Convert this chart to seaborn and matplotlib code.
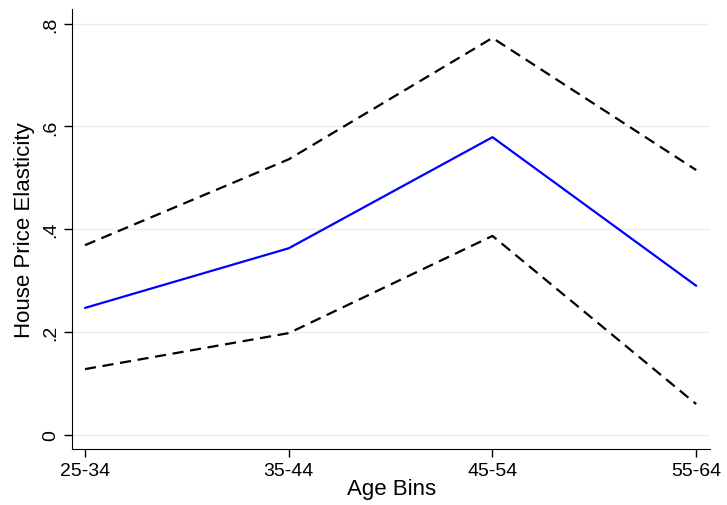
import matplotlib
matplotlib.use("Agg")
import matplotlib.pyplot as plt
import seaborn as sns
import pandas as pd

age_bins = ["25-34", "35-44", "45-54", "55-64"]
estimate = [0.247, 0.363, 0.579, 0.290]
upper_ci = [0.369, 0.536, 0.772, 0.515]
lower_ci = [0.128, 0.198, 0.387, 0.060]

sns.set_style("white")
plt.rcParams["font.family"] = ["Liberation Sans", "DejaVu Sans"]
plt.rcParams["text.color"] = "black"
plt.rcParams["axes.labelcolor"] = "black"

df = pd.DataFrame({"x": range(len(age_bins)), "est": estimate,
                   "hi": upper_ci, "lo": lower_ci})

fig = plt.figure(figsize=(7.27, 5.06), dpi=100)
ax = fig.add_axes([0.099, 0.111, 0.878, 0.869])

sns.lineplot(data=df, x="x", y="est", ax=ax, color="#0000ff", lw=1.6)
sns.lineplot(data=df, x="x", y="hi", ax=ax, color="black", lw=1.6, linestyle=(0, (5, 3)))
sns.lineplot(data=df, x="x", y="lo", ax=ax, color="black", lw=1.6, linestyle=(0, (5, 3)))

ax.set_xlim(-0.064, 3.069)
ax.set_ylim(-0.027, 0.828)
ax.set_xticks(range(len(age_bins)))
ax.set_xticklabels(age_bins, fontsize=14)
ax.set_yticks([0, 0.2, 0.4, 0.6, 0.8])
ax.set_yticklabels(["0", ".2", ".4", ".6", ".8"], fontsize=14, rotation=90, va="center")
ax.grid(axis="y", color="#e8eef2", lw=1)
ax.set_axisbelow(True)
ax.tick_params(axis="both", direction="out", length=6, width=1, colors="black",
               labelcolor="black", left=True, bottom=True)
for s in ["top", "right"]:
    ax.spines[s].set_visible(False)
for s in ["left", "bottom"]:
    ax.spines[s].set_color("black")
ax.set_xlabel("Age Bins", fontsize=16, labelpad=-1)
ax.set_ylabel("House Price Elasticity", fontsize=16, labelpad=5)

fig.savefig("out.png", dpi=100)
